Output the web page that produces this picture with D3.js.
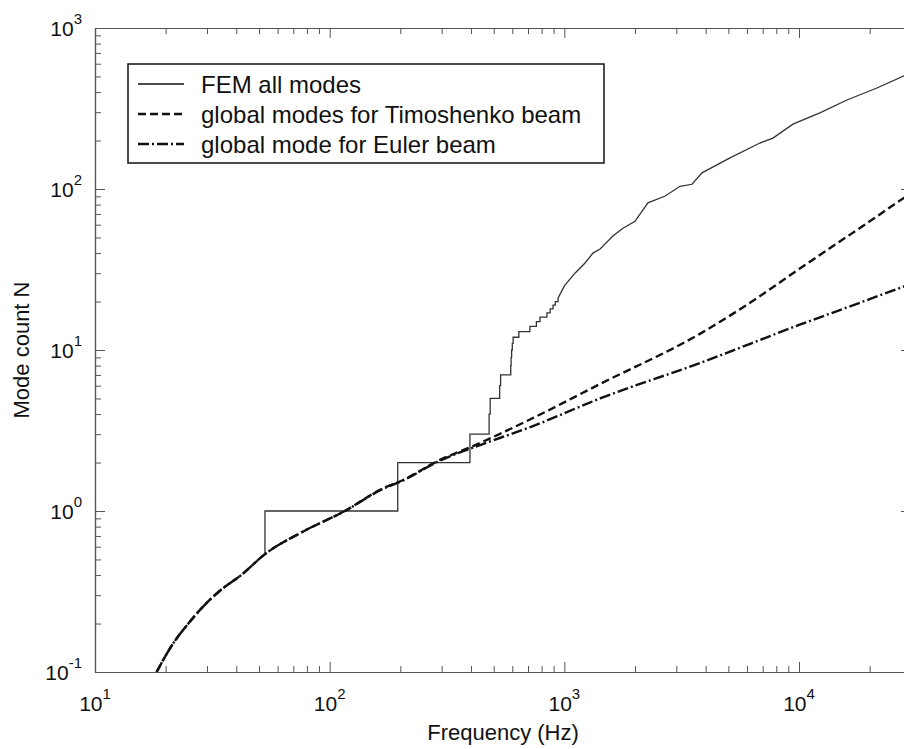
<!doctype html>
<html>

<head>
  <meta charset="utf-8">
  <title>Mode count</title>
  <style>
    body { margin: 0; background: #fff; }
    svg { display: block; }
    text { font-family: "Liberation Sans", Arial, sans-serif; fill: #111; }
  </style>
</head>

<body>
  <div id="chart"></div>

  <script src="https://d3js.org/d3.v7.min.js"></script>

  <script>
    // FEM cumulative mode count: staircase part, then dense part
    var femStepFreq = [53, 53, 195, 396, 478, 483, 530, 535, 591, 593, 596, 600, 605, 640, 713, 760, 787, 843, 870, 895, 915, 940];
    var femStepCount = [0.54, 1, 2, 3, 4, 5, 6, 7, 8, 9, 10, 11, 12, 13, 14, 15, 16, 17, 18, 19, 20, 21];
    var femTailFreq = [940, 1000, 1110, 1225, 1324, 1420, 1610, 1778, 2000, 2270, 2690, 3110, 3500, 3860, 5080, 6810, 7740, 9420, 12270, 16000, 21480, 28000, 30000];
    var femTailCount = [21, 25, 30, 34.7, 40, 42.4, 51, 57, 63, 82, 90.5, 104, 107, 126, 156, 193, 207, 253, 297, 357, 424, 504, 520];

    // global modes, Timoshenko beam
    var timoFreq = [18.3, 21.5, 25, 30, 35, 42, 53, 75, 116, 170, 200, 300, 400, 735, 1420, 3780, 6620, 10000, 20000, 28000, 30000];
    var timoCount = [0.1, 0.15, 0.2, 0.27, 0.33, 0.4, 0.54, 0.73, 1.0, 1.39, 1.53, 2.1, 2.5, 3.78, 6.15, 12.6, 21, 31.8, 63, 88, 94];

    // global modes, Euler beam
    var eulerFreq = [18.3, 21.5, 25, 30, 35, 42, 53, 75, 116, 170, 200, 300, 400, 735, 1420, 3780, 10000, 20000, 28000, 30000];
    var eulerCount = [0.1, 0.15, 0.2, 0.27, 0.33, 0.4, 0.54, 0.73, 1.0, 1.38, 1.52, 2.08, 2.45, 3.37, 5.0, 8.3, 14.3, 20.7, 24.8, 25.7];

    var xMajor = [10, 100, 1000, 10000];
    var yMajor = [0.1, 1, 10, 100, 1000];
    var xExp = ['1', '2', '3', '4'];
    var yExp = ['-1', '0', '1', '2', '3'];

    var legendLabels = ['FEM all modes', 'global modes for Timoshenko beam', 'global mode for Euler beam'];

    var W = 904, H = 749;
    var padL = 95, padR = 911, padT = 28, padB = 672;

    var x = d3.scaleLog().domain([10, 30000]).range([padL, padR]);
    var y = d3.scaleLog().domain([0.1, 1000]).range([padB, padT]);

    var svg = d3.select('#chart').append('svg')
      .attr('width', W)
      .attr('height', H);

    svg.append('clipPath').attr('id', 'plotclip')
      .append('rect')
      .attr('x', padL).attr('y', padT)
      .attr('width', padR - padL).attr('height', padB - padT);

    var isMajor = function(v) {
      var l = Math.log10(v);
      return Math.abs(l - Math.round(l)) < 1e-9;
    };
    var xMinor = x.ticks().filter(function(v) { return !isMajor(v); });
    var yMinor = y.ticks().filter(function(v) { return !isMajor(v); });

    var axisColor = '#555';

    function drawAxis(axis, tr) {
      var g = svg.append('g').attr('transform', tr).call(axis);
      g.select('.domain').attr('stroke', axisColor).attr('stroke-width', 1.2);
      g.selectAll('.tick line').attr('stroke', axisColor).attr('stroke-width', 1);
      g.selectAll('.tick text').remove();
      return g;
    }

    // bottom
    drawAxis(d3.axisBottom(x).tickValues(xMinor).tickSizeInner(-6).tickSizeOuter(0), 'translate(0,' + padB + ')');
    drawAxis(d3.axisBottom(x).tickValues(xMajor).tickSizeInner(-10).tickSizeOuter(0), 'translate(0,' + padB + ')');
    // top
    drawAxis(d3.axisTop(x).tickValues(xMinor).tickSizeInner(-6).tickSizeOuter(0), 'translate(0,' + padT + ')');
    drawAxis(d3.axisTop(x).tickValues(xMajor).tickSizeInner(-10).tickSizeOuter(0), 'translate(0,' + padT + ')');
    // left
    drawAxis(d3.axisLeft(y).tickValues(yMinor).tickSizeInner(-6).tickSizeOuter(0), 'translate(' + padL + ',0)');
    drawAxis(d3.axisLeft(y).tickValues(yMajor).tickSizeInner(-10).tickSizeOuter(0), 'translate(' + padL + ',0)');
    // right
    drawAxis(d3.axisRight(y).tickValues(yMinor).tickSizeInner(-6).tickSizeOuter(0), 'translate(' + padR + ',0)');
    drawAxis(d3.axisRight(y).tickValues(yMajor).tickSizeInner(-10).tickSizeOuter(0), 'translate(' + padR + ',0)');

    // tick labels with superscripts
    var xl = svg.append('g').selectAll('text')
      .data(xMajor)
      .enter().append('text')
      .attr('x', function(d) { return x(d); })
      .attr('y', padB + 39)
      .attr('text-anchor', 'middle')
      .style('font-size', '21px');
    xl.append('tspan').text('10');
    xl.append('tspan').attr('dy', -12).style('font-size', '15px')
      .text(function(d, i) { return xExp[i]; });

    var yl = svg.append('g').selectAll('text')
      .data(yMajor)
      .enter().append('text')
      .attr('x', padL - 13)
      .attr('y', function(d) { return y(d) + 8; })
      .attr('text-anchor', 'end')
      .style('font-size', '21px');
    yl.append('tspan').text('10');
    yl.append('tspan').attr('dy', -12).style('font-size', '15px')
      .text(function(d, i) { return yExp[i]; });

    // axis titles
    svg.append('text')
      .attr('x', (padL + padR) / 2)
      .attr('y', 740)
      .attr('text-anchor', 'middle')
      .style('font-size', '22px')
      .text('Frequency (Hz)');

    svg.append('text')
      .attr('transform', 'translate(29,' + ((padT + padB) / 2) + ') rotate(-90)')
      .attr('text-anchor', 'middle')
      .style('font-size', '22px')
      .text('Mode count N');

    // curves
    var plot = svg.append('g').attr('clip-path', 'url(#plotclip)');

    var stepLine = d3.line()
      .x(function(d) { return x(d[0]); })
      .y(function(d) { return y(d[1]); })
      .curve(d3.curveStepAfter);
    var smoothLine = d3.line()
      .x(function(d) { return x(d[0]); })
      .y(function(d) { return y(d[1]); })
      .curve(d3.curveMonotoneX);
    var plainLine = d3.line()
      .x(function(d) { return x(d[0]); })
      .y(function(d) { return y(d[1]); });

    var femSteps = femStepFreq.map(function(f, i) { return [f, femStepCount[i]]; });
    var femTail = femTailFreq.map(function(f, i) { return [f, femTailCount[i]]; });
    var timo = timoFreq.map(function(f, i) { return [f, timoCount[i]]; });
    var euler = eulerFreq.map(function(f, i) { return [f, eulerCount[i]]; });

    plot.append('path')
      .attr('d', stepLine(femSteps))
      .attr('fill', 'none').attr('stroke', '#333').attr('stroke-width', 1.3);
    plot.append('path')
      .attr('d', plainLine(femTail))
      .attr('fill', 'none').attr('stroke', '#333').attr('stroke-width', 1.3);

    plot.append('path')
      .attr('d', smoothLine(euler))
      .attr('fill', 'none').attr('stroke', '#111').attr('stroke-width', 2.4)
      .attr('stroke-dasharray', '11,3,2,3');
    plot.append('path')
      .attr('d', smoothLine(timo))
      .attr('fill', 'none').attr('stroke', '#111').attr('stroke-width', 2.4)
      .attr('stroke-dasharray', '8,4');

    // legend
    var lg = svg.append('g');
    lg.append('rect')
      .attr('x', 128).attr('y', 64)
      .attr('width', 476).attr('height', 99)
      .attr('fill', '#fff').attr('stroke', '#111').attr('stroke-width', 1.5);

    var dashes = [null, '8,4', '11,3,2,3'];
    var widths = [1.3, 2.4, 2.4];
    lg.selectAll('.row')
      .data(legendLabels)
      .enter().append('g')
      .attr('class', 'row')
      .attr('transform', function(d, i) { return 'translate(0,' + (84 + i * 30) + ')'; })
      .each(function(d, i) {
        var r = d3.select(this);
        r.append('line')
          .attr('x1', 138).attr('x2', 184)
          .attr('y1', 0).attr('y2', 0)
          .attr('stroke', '#111').attr('stroke-width', widths[i])
          .attr('stroke-dasharray', dashes[i]);
        r.append('text')
          .attr('x', 201).attr('y', 9)
          .style('font-size', '24px')
          .text(d);
      });
  </script>

</body>

</html>
